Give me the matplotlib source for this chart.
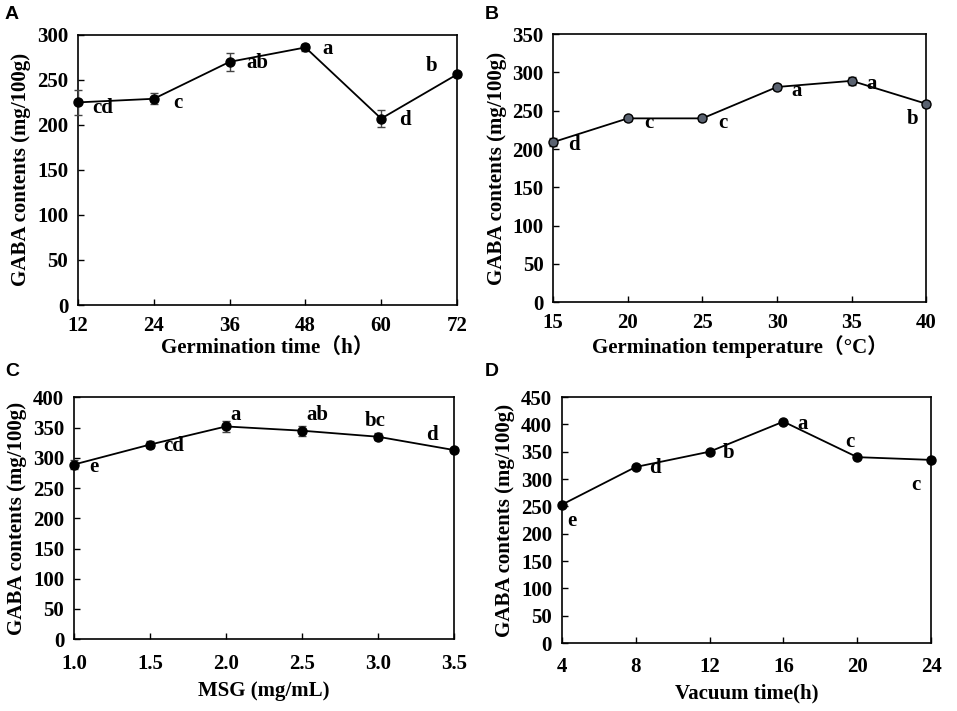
import matplotlib.pyplot as plt

plt.rcParams['font.family'] = ['Liberation Serif', 'Noto Sans CJK SC']
plt.rcParams['font.weight'] = 'bold'

# Panel A: germination time
time_h = [12, 24, 36, 48, 60, 72]
gaba_time = [225, 229, 270, 286, 207, 256]
err_time = [14, 6, 10, 4, 9, 3]
lab_time = ['cd', 'c', 'ab', 'a', 'd', 'b']

# Panel B: germination temperature
temp_c = [15, 20, 25, 30, 35, 40]
gaba_temp = [209, 240, 240, 281, 289, 259]
err_temp = [5, 3, 3, 4, 5, 4]
lab_temp = ['d', 'c', 'c', 'a', 'a', 'b']

# Panel C: MSG
msg = [1.0, 1.5, 2.0, 2.5, 3.0, 3.5]
gaba_msg = [289, 322, 352, 345, 335, 313]
err_msg = [7, 6, 9, 8, 6, 4]
lab_msg = ['e', 'cd', 'a', 'ab', 'bc', 'd']

# Panel D: vacuum time
vac_h = [4, 8, 12, 16, 20, 24]
gaba_vac = [253, 322, 350, 405, 340, 335]
err_vac = [0, 0, 0, 0, 0, 0]
lab_vac = ['e', 'd', 'b', 'a', 'c', 'c']

FS = 15


def panel(ax, x, y, err, labels, offsets, xlabel, ymax, ystep, xticks, xticklabels,
          face='black', xpad=8, labelpad=1):
    ax.errorbar(x, y, yerr=err, color='black', lw=1.3, marker='o', ms=6.5,
                mfc=face, mec='black', ecolor='#444444', elinewidth=1,
                capsize=3, zorder=3, clip_on=False)
    for xi, yi, lab, off in zip(x, y, labels, offsets):
        ax.annotate(lab, (xi, yi), xytext=off, textcoords='offset points',
                    fontsize=FS, fontweight='bold', ha='center', va='center')
    ax.set_xlim(x[0], x[-1])
    ax.set_ylim(0, ymax)
    ax.set_yticks(range(0, ymax + 1, ystep))
    ax.set_xticks(xticks)
    ax.set_xticklabels(xticklabels)
    ax.tick_params(direction='in', labelsize=FS, length=4, width=1)
    ax.tick_params(axis='x', pad=xpad)
    ax.tick_params(axis='y', pad=7)
    for lbl in ax.get_xticklabels() + ax.get_yticklabels():
        lbl.set_fontweight('bold')
    for sp in ax.spines.values():
        sp.set_linewidth(1.2)
    ax.set_xlabel(xlabel, fontsize=FS, fontweight='bold', labelpad=labelpad)
    ax.set_ylabel('GABA contents (mg/100g)', fontsize=FS, fontweight='bold',
                  labelpad=4)


fig = plt.figure(figsize=(9.57, 7.11), dpi=100)

axA = fig.add_axes([0.0815, 0.571, 0.396, 0.380])
panel(axA, time_h, gaba_time, err_time, lab_time,
      [(18, -4), (17, -3), (20, -1), (16, -1), (17, -1), (-18, 6)],
      'Germination time\uff08h\uff09', 300, 50, time_h, [str(v) for v in time_h])

axB = fig.add_axes([0.578, 0.575, 0.390, 0.377])
panel(axB, temp_c, gaba_temp, err_temp, lab_temp,
      [(15, -2), (15, -3), (15, -3), (14, -3), (14, -2), (-10, -11)],
      'Germination temperature\uff08\u00b0C\uff09', 350, 50, temp_c,
      [str(v) for v in temp_c], face='#5a6270')

axC = fig.add_axes([0.0773, 0.101, 0.397, 0.340])
panel(axC, msg, gaba_msg, err_msg, lab_msg,
      [(14, -2), (17, -1), (7, 8), (11, 11), (-2, 11), (-16, 11)],
      'MSG (mg/mL)', 400, 50, msg, [f'{v:.1f}' for v in msg],
      xpad=11, labelpad=5)

axD = fig.add_axes([0.587, 0.0956, 0.386, 0.346])
panel(axD, vac_h, gaba_vac, err_vac, lab_vac,
      [(7, -12), (14, -1), (14, -1), (14, -2), (-5, 11), (-11, -18)],
      'Vacuum time(h)', 450, 50, vac_h, [str(v) for v in vac_h],
      xpad=10, labelpad=5)

for lab, (px, py) in zip('ABCD', [(0.005, 0.979), (0.507, 0.979),
                                  (0.005, 0.477), (0.507, 0.478)]):
    fig.text(px, py, lab, fontsize=14, fontweight='bold',
             family='Liberation Sans', va='center')

fig.savefig('out.png', dpi=100)
